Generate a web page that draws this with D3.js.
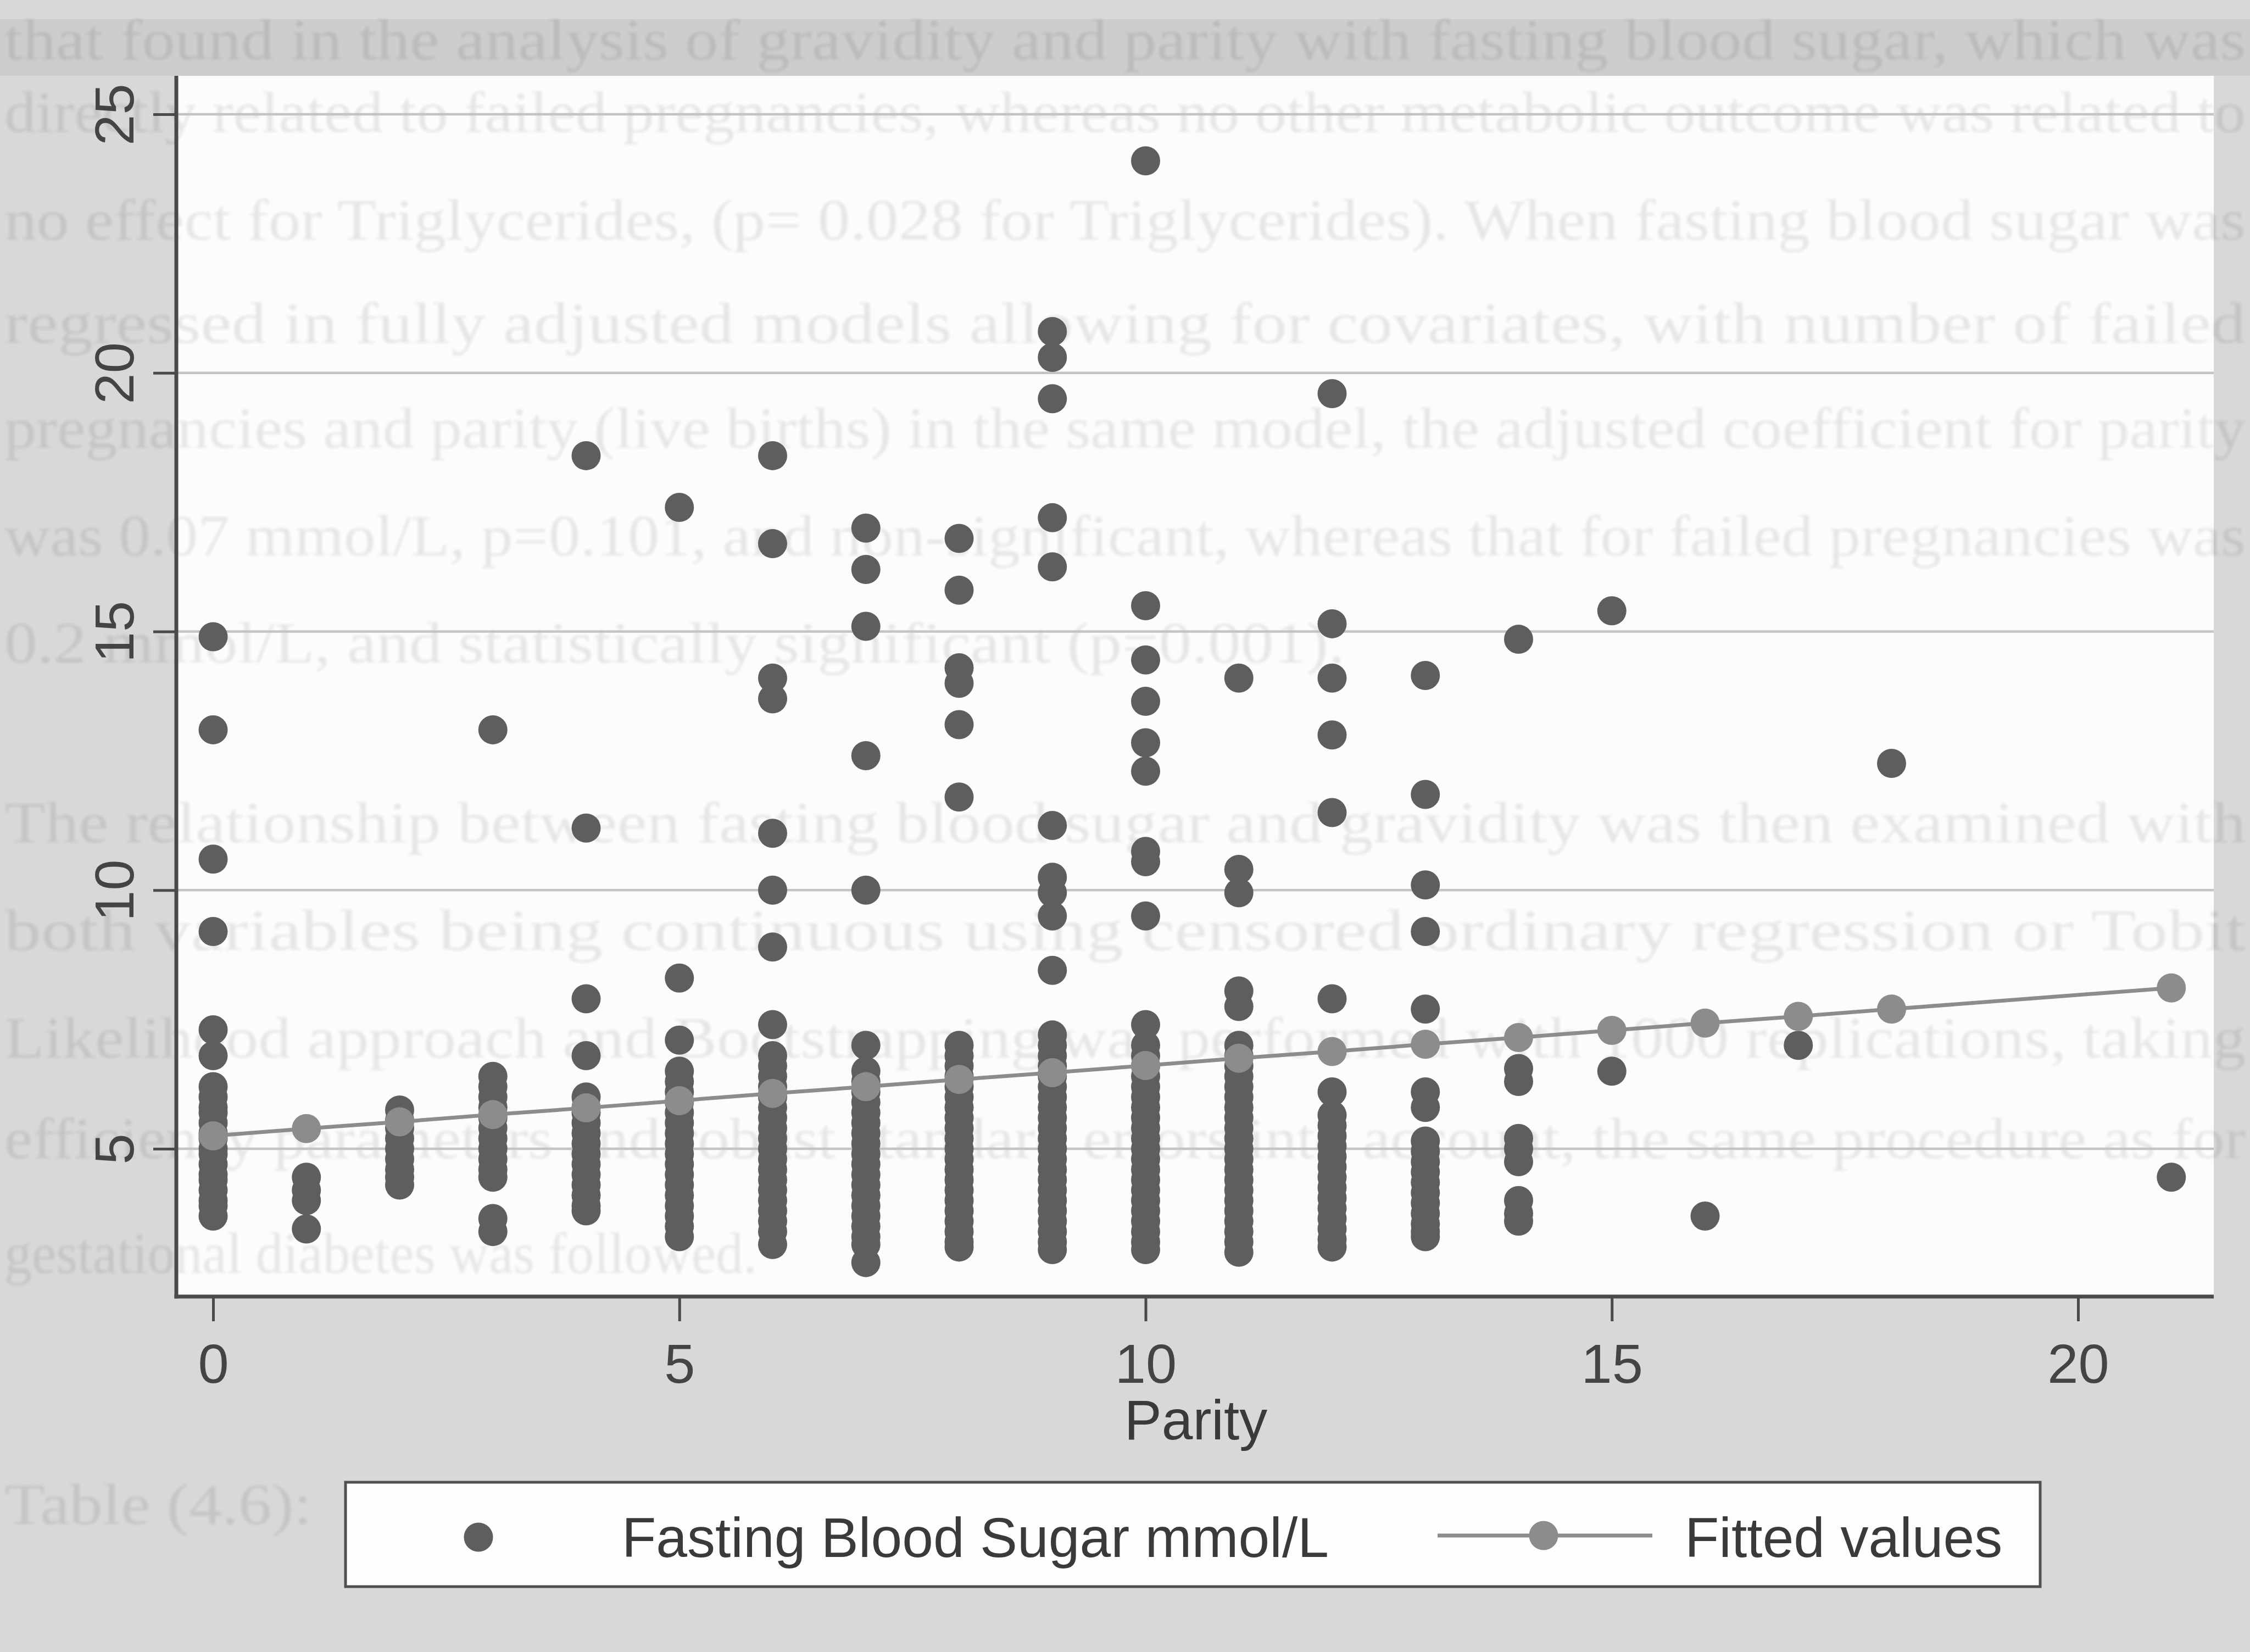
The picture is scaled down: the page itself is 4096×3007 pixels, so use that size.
<!DOCTYPE html>
<html>
<head>
<meta charset="utf-8">
<script src="https://cdn.jsdelivr.net/npm/d3@7"></script>
<style>
  html, body { margin: 0; padding: 0; background: #d8d8d8; }
  svg { display: block; }
</style>
</head>
<body>
<script>
// ---- data -------------------------------------------------------------
const parityLevels = [0, 1, 2, 3, 4, 5, 6, 7, 8, 9, 10, 11, 12, 13, 14, 15, 16, 17, 18, 21];

// Fasting blood sugar (mmol/L) observed at each parity level, same order as parityLevels
const fbsByParity = [
  [14.9, 13.1, 10.6, 9.2, 7.3, 6.8, 6.2, 6.0, 5.8, 5.7, 5.5, 5.3, 5.2, 5.0, 4.9, 4.7, 4.5, 4.4, 4.2, 4.0, 3.9, 3.7],
  [4.45, 4.2, 4.0, 3.45],
  [5.75, 5.55, 5.4, 5.2, 5.0, 4.8, 4.6, 4.45, 4.3],
  [13.1, 6.4, 6.2, 6.0, 5.8, 5.6, 5.4, 5.2, 5.0, 4.8, 4.6, 4.45, 3.65, 3.4],
  [18.4, 11.2, 7.9, 6.8, 6.0, 5.8, 5.7, 5.5, 5.3, 5.1, 4.9, 4.7, 4.5, 4.3, 4.1, 3.9, 3.8],
  [17.4, 8.3, 7.1, 6.5, 6.3, 6.1, 5.9, 5.7, 5.5, 5.3, 5.1, 4.9, 4.7, 4.5, 4.3, 4.1, 3.9, 3.7, 3.5, 3.3],
  [18.4, 16.7, 14.1, 13.7, 11.1, 10.0, 8.9, 7.4, 6.8, 6.6, 6.4, 6.2, 6.0, 5.8, 5.6, 5.4, 5.2, 5.0, 4.8, 4.6, 4.4, 4.2, 4.0, 3.8, 3.6, 3.4, 3.15],
  [17.0, 16.2, 15.1, 12.6, 10.0, 7.0, 6.5, 6.3, 6.1, 5.9, 5.7, 5.5, 5.3, 5.1, 4.9, 4.7, 4.5, 4.3, 4.1, 3.9, 3.7, 3.5, 3.3, 3.15, 2.8],
  [16.8, 15.8, 14.3, 14.0, 13.2, 11.8, 7.0, 6.8, 6.6, 6.4, 6.2, 6.0, 5.8, 5.6, 5.4, 5.2, 5.0, 4.8, 4.6, 4.4, 4.2, 4.0, 3.8, 3.6, 3.4, 3.2, 3.1],
  [20.8, 20.3, 19.5, 17.2, 16.25, 11.25, 10.25, 9.95, 9.5, 8.45, 7.2, 7.0, 6.8, 6.6, 6.4, 6.2, 6.0, 5.8, 5.6, 5.4, 5.2, 5.0, 4.8, 4.6, 4.4, 4.2, 4.0, 3.8, 3.6, 3.4, 3.2, 3.05],
  [24.1, 15.5, 14.45, 13.65, 12.85, 12.3, 10.75, 10.55, 9.5, 7.4, 7.0, 6.8, 6.6, 6.4, 6.2, 6.0, 5.8, 5.6, 5.4, 5.2, 5.0, 4.8, 4.6, 4.4, 4.2, 4.0, 3.8, 3.6, 3.4, 3.2, 3.05],
  [14.1, 10.4, 9.95, 8.05, 7.75, 7.0, 6.8, 6.6, 6.4, 6.2, 6.0, 5.8, 5.6, 5.4, 5.2, 5.0, 4.8, 4.6, 4.4, 4.2, 4.0, 3.8, 3.6, 3.4, 3.2, 3.0],
  [19.6, 15.15, 14.1, 13.0, 11.5, 7.9, 6.1, 5.65, 5.45, 5.25, 5.05, 4.85, 4.65, 4.45, 4.25, 4.05, 3.85, 3.65, 3.45, 3.25, 3.1],
  [14.15, 11.85, 10.1, 9.2, 7.7, 6.1, 5.8, 5.15, 4.95, 4.75, 4.55, 4.35, 4.15, 3.95, 3.75, 3.55, 3.4, 3.3],
  [14.85, 6.55, 6.3, 5.2, 5.0, 4.75, 4.0, 3.75, 3.6],
  [15.4, 6.5],
  [3.7],
  [7.0],
  [12.45],
  [4.45]
];

// Linear-fit prediction at each parity level
const fittedValues = [5.25, 5.39, 5.52, 5.66, 5.79, 5.93, 6.07, 6.20, 6.34, 6.47,
                      6.61, 6.75, 6.88, 7.02, 7.15, 7.29, 7.43, 7.56, 7.70, 8.11];

const xTicks = [0, 5, 10, 15, 20];
const yTicks = [5, 10, 15, 20, 25];
const xTitle = "Parity";
const legendLabels = ["Fasting Blood Sugar mmol/L", "Fitted values"];

// Text of the facing page that shows through the paper
const pageText = [
  "that found in the analysis of gravidity and parity with fasting blood sugar, which was",
  "directly related to failed pregnancies, whereas no other metabolic outcome was related to",
  "no effect for Triglycerides, (p= 0.028 for Triglycerides). When fasting blood sugar was",
  "regressed in fully adjusted models allowing for covariates, with number of failed",
  "pregnancies and parity (live births) in the same model, the adjusted coefficient for parity",
  "was 0.07 mmol/L, p=0.101, and non-significant, whereas that for failed pregnancies was",
  "0.2 mmol/L, and statistically significant (p=0.001).",
  "The relationship between fasting blood sugar and gravidity was then examined with",
  "both variables being continuous using censored ordinary regression or Tobit",
  "Likelihood approach and Bootstrapping was performed with 1000 replications, taking",
  "efficiency parameters and robust standard errors into account, the same procedure as for",
  "gestational diabetes was followed.",
  "Table (4.6):"
];

// ---- layout -----------------------------------------------------------
const W = 4096, H = 3007;
const plot = { left: 321, right: 4030, top: 138, bottom: 2360 };
const dotR = 26.5;

const x = d3.scaleLinear().domain([0, 20]).range([388, 3783]);
const y = d3.scaleLinear().domain([5, 25]).range([2091, 208]);

const svg = d3.select("body").append("svg")
  .attr("width", W).attr("height", H)
  .attr("viewBox", `0 0 ${W} ${H}`);

const defs = svg.append("defs");
defs.append("filter").attr("id", "bleed")
  .append("feGaussianBlur").attr("stdDeviation", 2.4);

// paper background
svg.append("rect").attr("x", 0).attr("y", 0).attr("width", W).attr("height", H).attr("fill", "#d8d8d8");
svg.append("rect").attr("x", 0).attr("y", 35).attr("width", W).attr("height", plot.top - 35).attr("fill", "#cdcdcd");

// plot region
svg.append("rect")
  .attr("x", plot.left).attr("y", plot.top)
  .attr("width", plot.right - plot.left).attr("height", plot.bottom - plot.top)
  .attr("fill", "#fcfcfc");

// show-through text (page behind the figure)
const lineY = [108, 240, 436, 624, 815, 1011, 1206, 1533, 1729, 1925, 2108, 2317, 2774];
const lineLen = [4080, 4080, 4080, 4080, 4080, 4080, 2440, 4080, 4080, 4080, 4080, 1370, 560];
svg.append("g")
  .attr("filter", "url(#bleed)")
  .attr("opacity", 0.085)
  .selectAll("text")
  .data(pageText)
  .join("text")
  .attr("x", 8)
  .attr("y", (d, i) => lineY[i])
  .attr("textLength", (d, i) => lineLen[i])
  .attr("lengthAdjust", "spacingAndGlyphs")
  .attr("font-family", "'Liberation Serif', 'DejaVu Serif', serif")
  .attr("font-size", 106)
  .attr("fill", "#000")
  .text(d => d);

// horizontal grid lines
svg.append("g")
  .selectAll("line")
  .data(yTicks)
  .join("line")
  .attr("x1", plot.left).attr("x2", plot.right)
  .attr("y1", d => y(d)).attr("y2", d => y(d))
  .attr("stroke", "#c4c4c4")
  .attr("stroke-width", 4.5);

// axes
const axisColor = "#4a4a4a";
const tickFont = "'Liberation Sans', Arial, sans-serif";
const yAxis = svg.append("g")
  .attr("transform", `translate(${plot.left},0)`)
  .call(d3.axisLeft(y).tickValues(yTicks).tickSize(42).tickSizeOuter(0));
yAxis.select(".domain").remove();
yAxis.selectAll(".tick line").attr("stroke", axisColor).attr("stroke-width", 5);
yAxis.selectAll(".tick text")
  .attr("x", 0).attr("y", 0).attr("dy", "0.36em")
  .attr("text-anchor", "middle")
  .attr("transform", "translate(-114,0) rotate(-90)")
  .attr("font-family", tickFont)
  .attr("font-size", 101)
  .attr("fill", "#444");

const xAxis = svg.append("g")
  .attr("transform", `translate(0,${plot.bottom})`)
  .call(d3.axisBottom(x).tickValues(xTicks).tickSize(45).tickPadding(40).tickSizeOuter(0));
xAxis.select(".domain").remove();
xAxis.selectAll(".tick line").attr("stroke", axisColor).attr("stroke-width", 5);
xAxis.selectAll(".tick text")
  .attr("font-family", tickFont)
  .attr("font-size", 101)
  .attr("fill", "#444");

svg.append("line")
  .attr("x1", plot.left).attr("x2", plot.left)
  .attr("y1", plot.top).attr("y2", plot.bottom + 3.5)
  .attr("stroke", axisColor).attr("stroke-width", 7);
svg.append("line")
  .attr("x1", plot.left - 3.5).attr("x2", plot.right)
  .attr("y1", plot.bottom).attr("y2", plot.bottom)
  .attr("stroke", axisColor).attr("stroke-width", 7);

svg.append("text")
  .attr("x", 2177).attr("y", 2620)
  .attr("text-anchor", "middle")
  .attr("font-family", tickFont)
  .attr("font-size", 102)
  .attr("fill", "#3a3a3a")
  .text(xTitle);

// scatter points
const points = parityLevels.flatMap((p, i) => fbsByParity[i].map(v => ({ p, v })));
const dotColor = "#5e5e5e";
const fitColor = "#8c8c8c";
svg.append("g")
  .selectAll("circle")
  .data(points)
  .join("circle")
  .attr("cx", d => x(d.p))
  .attr("cy", d => y(d.v))
  .attr("r", dotR)
  .attr("fill", dotColor);

// fitted line with markers
const fitted = parityLevels.map((p, i) => ({ p, v: fittedValues[i] }));
svg.append("path")
  .datum(fitted)
  .attr("d", d3.line().x(d => x(d.p)).y(d => y(d.v)))
  .attr("fill", "none")
  .attr("stroke", fitColor)
  .attr("stroke-width", 7);
svg.append("g")
  .selectAll("circle")
  .data(fitted)
  .join("circle")
  .attr("cx", d => x(d.p))
  .attr("cy", d => y(d.v))
  .attr("r", dotR)
  .attr("fill", fitColor);

// legend
const legend = { x0: 629, x1: 3714, y0: 2698, y1: 2888 };
svg.append("rect")
  .attr("x", legend.x0).attr("y", legend.y0)
  .attr("width", legend.x1 - legend.x0).attr("height", legend.y1 - legend.y0)
  .attr("fill", "#fdfdfd")
  .attr("stroke", "#505050")
  .attr("stroke-width", 5);

const legendFont = { family: tickFont, size: 102 };
svg.append("circle").attr("cx", 871).attr("cy", 2798).attr("r", dotR).attr("fill", dotColor);
svg.append("text")
  .attr("x", 1132).attr("y", 2834)
  .attr("font-family", legendFont.family).attr("font-size", legendFont.size)
  .attr("fill", "#3a3a3a")
  .text(legendLabels[0]);
svg.append("line")
  .attr("x1", 2617).attr("x2", 3008).attr("y1", 2795).attr("y2", 2795)
  .attr("stroke", fitColor).attr("stroke-width", 7);
svg.append("circle").attr("cx", 2810).attr("cy", 2795).attr("r", dotR).attr("fill", fitColor);
svg.append("text")
  .attr("x", 3067).attr("y", 2834)
  .attr("font-family", legendFont.family).attr("font-size", legendFont.size)
  .attr("fill", "#3a3a3a")
  .text(legendLabels[1]);
</script>
</body>
</html>
